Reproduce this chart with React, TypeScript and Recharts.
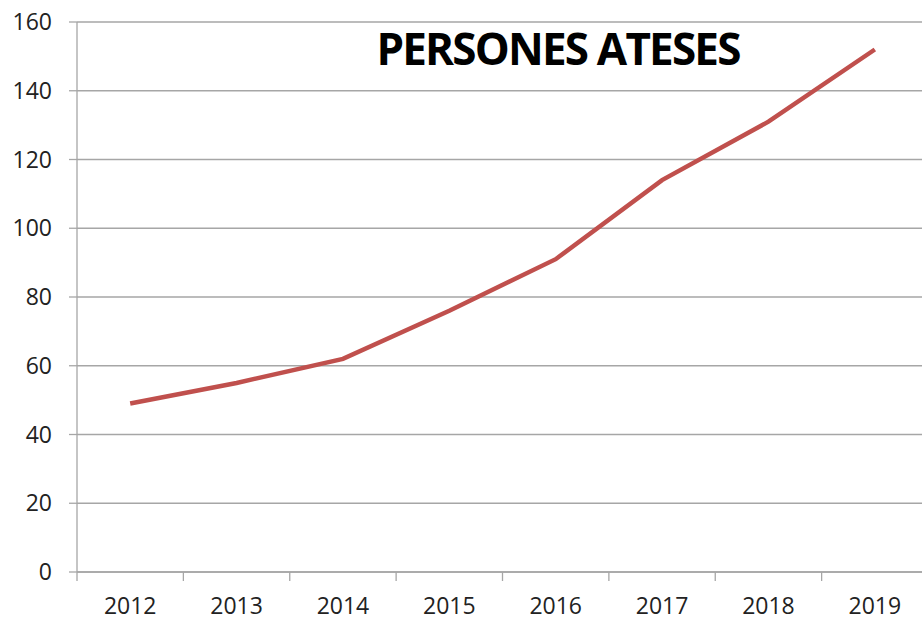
import React from "react";
import { LineChart, Line, XAxis, YAxis, CartesianGrid } from "recharts";

const years = ["2012", "2013", "2014", "2015", "2016", "2017", "2018", "2019"];
const persones = [49, 55, 62, 76, 91, 114, 131, 152];
const yTicks = [0, 20, 40, 60, 80, 100, 120, 140, 160];
const title = "PERSONES ATESES";

const data = years.map((y, i) => ({ year: y, value: persones[i] }));

const FONT = "'Open Sans', 'Noto Sans', sans-serif";
const GRID = "#A6A6A6";
const CHART_W = 928;
const CHART_H = 620;
const Y_W = 77;
const X_H = 48;
const PLOT_BOTTOM = CHART_H - X_H;
const HALF_BAND = (CHART_W - Y_W) / years.length / 2;

function XTick(props: any) {
  const { x, y, payload, index } = props;
  const last = index === years.length - 1;
  return (
    <g>
      <line
        x1={x - HALF_BAND}
        x2={x - HALF_BAND}
        y1={PLOT_BOTTOM}
        y2={PLOT_BOTTOM + 9}
        stroke={GRID}
        strokeWidth={1.3}
      />
      {last && (
        <line
          x1={x + HALF_BAND}
          x2={x + HALF_BAND}
          y1={PLOT_BOTTOM}
          y2={PLOT_BOTTOM + 9}
          stroke={GRID}
          strokeWidth={1.3}
        />
      )}
      <text
        x={x}
        y={y}
        dy="0.71em"
        textAnchor="middle"
        fill="#222"
        fontSize={23}
        fontFamily={FONT}
      >
        {payload.value}
      </text>
    </g>
  );
}

export default function App() {
  return (
    <div
      style={{
        position: "fixed",
        left: 0,
        top: 0,
        width: 922,
        height: 620,
        overflow: "hidden",
        background: "#fff",
      }}
    >
      <LineChart
        width={CHART_W}
        height={CHART_H}
        data={data}
        margin={{ top: 22, right: 0, bottom: 0, left: 0 }}
      >
        <CartesianGrid vertical={false} stroke={GRID} strokeWidth={1.3} />
        <XAxis
          dataKey="year"
          scale="band"
          tickLine={false}
          axisLine={{ stroke: GRID, strokeWidth: 1.3 }}
          tick={<XTick />}
          tickMargin={20}
          height={X_H}
          interval={0}
        />
        <YAxis
          domain={[0, 160]}
          ticks={yTicks}
          width={Y_W}
          tickSize={8}
          tickMargin={17}
          tickLine={{ stroke: GRID, strokeWidth: 1.3 }}
          axisLine={{ stroke: GRID, strokeWidth: 1.3 }}
          tick={{ fill: "#222", fontSize: 23, fontFamily: FONT }}
          interval={0}
        />
        <Line
          type="linear"
          dataKey="value"
          stroke="#C0504D"
          strokeWidth={4.5}
          dot={false}
          isAnimationActive={false}
        />
      </LineChart>
      <div
        style={{
          position: "absolute",
          left: 358,
          top: 21,
          width: 400,
          textAlign: "center",
          fontFamily: FONT,
          fontWeight: 700,
          fontSize: 44,
          letterSpacing: -1.8,
          color: "#000",
          lineHeight: "54px",
          whiteSpace: "nowrap",
        }}
      >
        {title}
      </div>
    </div>
  );
}
